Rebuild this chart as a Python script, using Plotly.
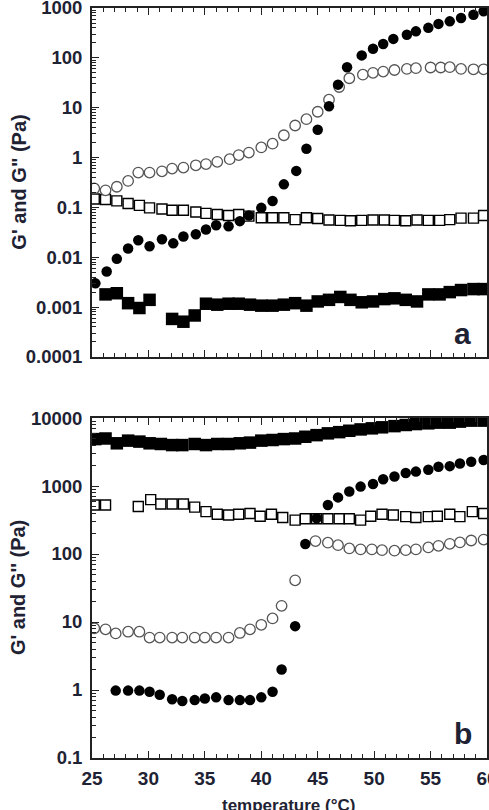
import plotly.graph_objects as go

# ---------------- Panel a (top) ----------------
a_T_open_circ = [25.2, 26.2, 27.2, 28.2, 29.1, 30.1, 31.2, 32.1, 33.1, 34.2, 35.1, 36.1, 37.2, 38.0, 38.9, 40.0,
                 41.0, 42.0, 43.0, 44.0, 45.0, 46.0, 46.9, 47.8, 49.0, 49.9, 50.8, 51.8, 52.9, 53.7, 55.0, 55.9,
                 56.7, 57.7, 58.8, 59.7]
a_open_circ = [0.24, 0.22, 0.26, 0.34, 0.5, 0.5, 0.53, 0.6, 0.63, 0.7, 0.74, 0.82, 0.93, 1.12, 1.26, 1.6,
               1.9, 2.8, 4.4, 5.9, 8.3, 14.5, 26, 39, 46, 50, 53, 57, 60, 62, 64, 64,
               65, 60, 59, 59]

a_T_fill_circ = [25.3, 26.3, 27.2, 28.2, 29.1, 30.1, 31.2, 32.2, 33.1, 34.2, 35.1, 36.0, 37.1, 38.1, 38.9, 40.0,
                 41.0, 42.0, 43.1, 44.0, 45.0, 46.0, 46.8, 47.6, 48.9, 49.9, 50.8, 51.7, 52.9, 53.7, 54.8, 55.7,
                 56.7, 57.7, 58.8, 59.7]
a_fill_circ = [0.003, 0.0052, 0.0093, 0.015, 0.022, 0.0166, 0.023, 0.019, 0.026, 0.029, 0.036, 0.044, 0.042,
               0.053, 0.069, 0.098, 0.134, 0.29, 0.54, 1.5, 3.6, 10.7, 29, 65, 112, 152, 190, 240, 290, 340,
               400, 480, 540, 630, 730, 860]

a_T_open_sq = [25.2, 26.2, 27.2, 28.2, 29.2, 30.1, 31.2, 32.1, 33.1, 34.2, 35.1, 36.1, 37.1, 38.0, 38.9, 40.0,
               41.0, 42.0, 43.0, 44.0, 45.0, 46.0, 47.0, 47.9, 48.9, 49.9, 50.9, 51.8, 52.8, 53.8, 54.8, 55.8,
               56.7, 57.7, 58.8, 59.7]
a_open_sq = [0.148, 0.144, 0.135, 0.12, 0.11, 0.098, 0.093, 0.088, 0.088, 0.081, 0.076, 0.072, 0.069, 0.072,
             0.067, 0.062, 0.062, 0.062, 0.057, 0.062, 0.060, 0.056, 0.055, 0.054, 0.055, 0.056, 0.056, 0.055,
             0.054, 0.056, 0.055, 0.055, 0.057, 0.061, 0.061, 0.069]

a_T_fill_sq = [26.2, 27.2, 28.2, 29.2, 30.1, 32.1, 33.1, 34.1, 35.1, 36.1, 37.1, 38.0, 39.0, 40.0, 41.0, 42.0,
               43.0, 44.0, 45.0, 46.0, 47.0, 47.9, 48.9, 49.9, 50.9, 51.8, 52.8, 53.8, 54.8, 55.8, 56.7, 57.7,
               58.8, 59.7]
a_fill_sq = [0.0018, 0.0019, 0.0012, 0.00096, 0.0014, 0.00058, 0.00051, 0.00068, 0.00117, 0.00112, 0.00117,
             0.00117, 0.00112, 0.00107, 0.00107, 0.00112, 0.0012, 0.00107, 0.0013, 0.0014, 0.0016, 0.0014,
             0.00125, 0.0013, 0.00145, 0.0015, 0.0014, 0.0013, 0.0018, 0.0018, 0.0020, 0.0022, 0.0023, 0.0023]

# ---------------- Panel b (bottom) ----------------
b_T_fill_circ = [27.1, 28.2, 29.2, 30.1, 31.0, 32.1, 33.0, 34.1, 35.0, 36.0, 37.1, 38.1, 39.0, 40.0, 41.0, 41.8,
                 43.0, 43.9, 44.9, 45.9, 46.8, 47.8, 48.8, 49.9, 50.8, 51.8, 52.8, 53.7, 54.8, 55.7, 56.7, 57.6,
                 58.6, 59.7]
b_fill_circ = [0.98, 0.98, 0.98, 0.94, 0.85, 0.73, 0.69, 0.71, 0.75, 0.78, 0.71, 0.71, 0.71, 0.78, 0.94, 2.0,
               8.7, 140, 335, 525, 680, 830, 980, 1070, 1260, 1380, 1550, 1630, 1730, 1920, 1960, 2150,
               2280, 2420]

b_T_open_circ = [25.2, 26.2, 27.1, 28.2, 29.2, 30.1, 31.0, 32.1, 33.0, 34.1, 35.0, 36.0, 37.1, 38.1, 39.0, 40.0,
                 41.0, 41.8, 43.0, 44.8, 45.9, 46.8, 47.8, 48.8, 49.8, 50.7, 51.8, 52.8, 53.7, 54.8, 55.7, 56.7,
                 57.6, 58.6, 59.7]
b_open_circ = [8.1, 7.8, 6.8, 7.2, 7.2, 5.9, 5.9, 5.9, 5.9, 5.9, 5.9, 5.9, 5.9, 6.9, 7.8, 9.1,
               11.3, 17.3, 41, 155, 147, 135, 121, 117, 117, 114, 112, 114, 117, 125, 132, 141,
               148, 158, 163]

b_T_open_sq = [25.2, 26.2, 29.1, 30.2, 31.1, 32.1, 33.1, 34.1, 35.1, 36.1, 37.1, 38.0, 39.0, 39.9, 40.9, 41.9,
               43.0, 43.9, 44.9, 45.9, 46.9, 47.8, 48.8, 49.7, 50.7, 51.7, 52.8, 53.7, 54.8, 55.6, 56.7, 57.6,
               58.7, 59.7]
b_open_sq = [525, 525, 500, 630, 545, 545, 545, 490, 420, 385, 375, 385, 395, 360, 385, 345,
             315, 330, 330, 330, 330, 330, 315, 360, 385, 375, 355, 345, 355, 360, 385, 355,
             420, 395]

b_T_fill_sq = [25.3, 26.2, 27.2, 28.2, 29.2, 30.1, 31.1, 32.1, 33.0, 34.1, 35.1, 36.1, 37.1, 38.1, 39.0, 40.0,
               41.0, 42.0, 43.0, 43.9, 44.9, 45.9, 46.9, 47.8, 48.8, 49.8, 50.7, 51.8, 52.8, 53.7, 54.8, 55.7,
               56.7, 57.6, 58.6, 59.7]
b_fill_sq = [4900, 5000, 4250, 4650, 4500, 4250, 4150, 4000, 4000, 4150, 4000, 4150, 4150, 4250, 4350, 4650,
             4750, 4900, 5000, 5300, 5600, 5950, 6200, 6500, 6800, 7050, 7300, 7600, 7900, 8150, 8350, 8550,
             8550, 8850, 9150, 9150]

# ticks
x_major = [25, 30, 35, 40, 45, 50, 55, 60]
a_y_ticks = [0.0001, 0.001, 0.01, 0.1, 1, 10, 100, 1000]
a_y_text = ["0.0001", "0.001", "0.01", "0.1", "1", "10", "100", "1000"]
b_y_ticks = [0.1, 1, 10, 100, 1000, 10000]
b_y_text = ["0.1", "1", "10", "100", "1000", "10000"]


def minor_log(lo, hi):
    vals = []
    e = lo
    while e < hi:
        for m in range(2, 10):
            vals.append(m * 10 ** e)
        e += 1
    return vals


FONT = "Liberation Sans, Arial, sans-serif"
TXT = "#1e2233"
AX = "#222222"

fig = go.Figure()

def add(x, y, sym, size, xa, ya, fill, line_color, lw):
    fig.add_trace(go.Scatter(
        x=x, y=y, mode="markers", xaxis=xa, yaxis=ya, showlegend=False, cliponaxis=True,
        marker=dict(symbol=sym, size=size, color=fill,
                    line=dict(color=line_color, width=lw))))

# panel a (xaxis2 / yaxis2)
add(a_T_fill_sq, a_fill_sq, "square", 12.5, "x2", "y2", "black", "black", 0)
add(a_T_open_sq, a_open_sq, "square", 10, "x2", "y2", "white", "black", 1.4)
add(a_T_open_circ, a_open_circ, "circle", 10.5, "x2", "y2", "white", "#555555", 1.3)
add(a_T_fill_circ, a_fill_circ, "circle", 10.5, "x2", "y2", "black", "black", 0)

# panel b (xaxis / yaxis)
add(b_T_fill_sq, b_fill_sq, "square", 12.5, "x", "y", "black", "black", 0)
add(b_T_open_sq, b_open_sq, "square", 10, "x", "y", "white", "black", 1.4)
add(b_T_open_circ, b_open_circ, "circle", 10.5, "x", "y", "white", "#555555", 1.3)
add(b_T_fill_circ, b_fill_circ, "circle", 10.5, "x", "y", "black", "black", 0)

xcommon = dict(range=[25, 60.0001], showgrid=False, zeroline=False, showline=True, linecolor=AX, linewidth=1.8,
               mirror="allticks", ticks="inside", ticklen=7, tickwidth=1, tickcolor=AX, automargin=False,
               tickvals=x_major, minor=dict(ticks="inside", ticklen=4, tickwidth=1, tickcolor=AX, dtick=1),
               tickfont=dict(family=FONT, size=19, color=TXT, weight="bold"), ticklabeloverflow="allow")

ycommon = dict(type="log", showgrid=False, zeroline=False, showline=True, linecolor=AX, linewidth=1.8,
               mirror=True, ticks="inside", ticklen=7, tickwidth=1, tickcolor=AX, automargin=False,
               tickfont=dict(family=FONT, size=18.5, color=TXT, weight="bold"), ticklabelstandoff=4,
               ticklabeloverflow="allow")

fig.update_layout(
    width=489, height=810,
    margin=dict(l=92, r=2, t=8, b=52, autoexpand=False),
    paper_bgcolor="white", plot_bgcolor="white",
    xaxis=dict(**xcommon, anchor="y", ticklabelstandoff=2),
    xaxis2=dict(**xcommon, anchor="y2", showticklabels=False, matches="x"),
    yaxis=dict(**ycommon, domain=[0, 0.4533], range=[-1, 4], anchor="x",
               tickvals=b_y_ticks, ticktext=b_y_text,
               minor=dict(ticks="inside", ticklen=4, tickwidth=1, tickcolor=AX, tickvals=minor_log(-1, 4))),
    yaxis2=dict(**ycommon, domain=[0.5347, 1], range=[-4, 3], anchor="x2",
                tickvals=a_y_ticks, ticktext=a_y_text,
                minor=dict(ticks="inside", ticklen=4, tickwidth=1, tickcolor=AX, tickvals=minor_log(-4, 3))),
)

# axis titles and panel labels
fig.add_annotation(text="G' and G\" (Pa)", xref="paper", yref="paper", x=-0.187, y=0.7673,
                   textangle=-90, showarrow=False, xanchor="center", yanchor="middle",
                   font=dict(family=FONT, size=20, color=TXT, weight="bold"))
fig.add_annotation(text="G' and G'' (Pa)", xref="paper", yref="paper", x=-0.187, y=0.2267,
                   textangle=-90, showarrow=False, xanchor="center", yanchor="middle",
                   font=dict(family=FONT, size=20, color=TXT, weight="bold"))
fig.add_annotation(text="temperature (°C)", xref="paper", yref="paper", x=0.498, y=-0.048,
                   showarrow=False, xanchor="center", yanchor="top",
                   font=dict(family=FONT, size=17, color=TXT, weight="bold"))
fig.add_annotation(text="a", xref="paper", yref="paper", x=0.939, y=0.566,
                   showarrow=False, xanchor="center", yanchor="middle",
                   font=dict(family=FONT, size=30, color=TXT, weight="bold"))
fig.add_annotation(text="b", xref="paper", yref="paper", x=0.939, y=0.033,
                   showarrow=False, xanchor="center", yanchor="middle",
                   font=dict(family=FONT, size=30, color=TXT, weight="bold"))

fig.write_html("out.html")
